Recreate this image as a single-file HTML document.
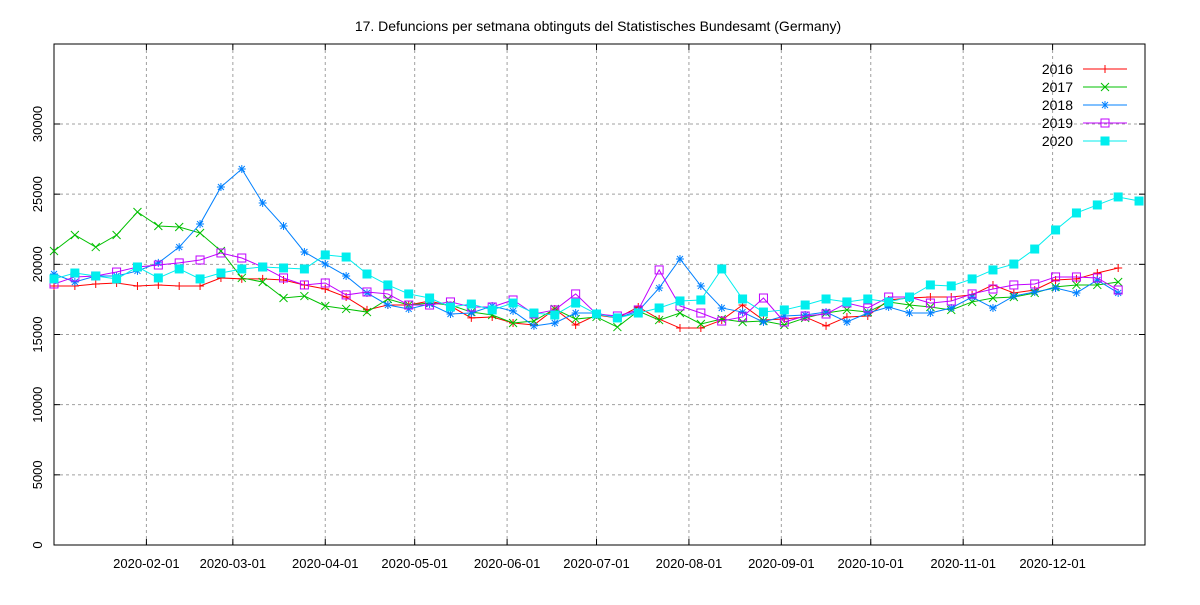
<!DOCTYPE html>
<html><head><meta charset="utf-8"><style>
body{margin:0;background:#fff;}
svg text{font-family:"Liberation Sans",sans-serif;fill:#000;}
</style></head><body>
<svg id="chart" width="1200" height="600" xmlns="http://www.w3.org/2000/svg">
<text x="598" y="31" font-size="14" text-anchor="middle">17. Defuncions per setmana obtinguts del Statistisches Bundesamt (Germany)</text>
<g id="grid"></g><g id="axes"></g><g id="series"></g><g id="legend"></g>
</svg>
<script>
const seriesNames=["2016","2017","2018","2019","2020"];
const v2016=[18460,18460,18600,18670,18460,18530,18460,18460,19030,18960,18960,18880,18530,18240,17670,16750,17100,17100,17390,17030,16180,16250,15820,15680,16820,15680,16390,16180,16960,16100,15460,15460,16030,17100,16030,16100,16250,15610,16250,16320,17460,17600,17670,17670,17820,18530,17960,18170,18880,18960,19380,19740];
const v2017=[20950,22090,21230,22090,23730,22730,22660,22230,20950,19030,18740,17600,17740,17030,16820,16600,17530,17100,17240,17100,16600,16390,15820,15960,16820,16100,16250,15530,16670,16030,16530,15750,16100,15890,15960,15680,16180,16530,16750,16600,17320,17100,16960,16750,17320,17600,17670,17960,18390,18530,18530,18740];
const v2018=[19310,18740,19170,19170,19530,20100,21230,22870,25510,26790,24370,22730,20880,20020,19170,17960,17100,16820,17170,16460,16530,17030,16670,15610,15820,16530,16530,16180,16670,18310,20380,18460,16890,16600,15890,16320,16390,16600,15890,16530,16960,16530,16530,16890,17670,16890,17740,18030,18310,17960,18880,17960];
const v2019=[18600,19100,19170,19450,19810,19950,20100,20310,20810,20450,19810,19030,18530,18670,17820,18030,17890,17100,17100,17320,16960,16960,17460,16460,16750,17890,16460,16320,16750,19600,17030,16530,15960,16250,17600,15890,16320,16460,17240,16890,17670,17670,17240,17390,17890,18240,18530,18600,19100,19100,19030,18170];
const v2020=[18960,19380,19170,18960,19810,19030,19670,18960,19380,19670,19810,19740,19670,20670,20520,19310,18530,17890,17600,16960,17170,16750,17240,16530,16390,17240,16460,16180,16530,16890,17390,17460,19670,17530,16600,16750,17100,17530,17320,17530,17320,17670,18530,18460,18960,19600,20020,21090,22450,23660,24230,24800,24510];
const yTicks=[0,5000,10000,15000,20000,25000,30000];
const xTickLabels=["2020-02-01","2020-03-01","2020-04-01","2020-05-01","2020-06-01","2020-07-01","2020-08-01","2020-09-01","2020-10-01","2020-11-01","2020-12-01"];
const xTickDays=[31,60,91,121,152,182,213,244,274,305,335];

const L=54,R=1145,T=44,B=545;
const dayMax=366,yMax=35700;
const xs=d=>L+d/dayMax*(R-L);
const ys=v=>B-v/yMax*(B-T);
const NS="http://www.w3.org/2000/svg";
function mk(tag,attrs,parent){const e=document.createElementNS(NS,tag);for(const k in attrs)e.setAttribute(k,attrs[k]);parent.appendChild(e);return e;}
const grid=document.getElementById('grid'),axes=document.getElementById('axes'),ser=document.getElementById('series'),leg=document.getElementById('legend');
yTicks.forEach(t=>{
  const y=ys(t);
  if(t>0){const g=mk('line',{x1:L,x2:R,y1:y,y2:y,stroke:'#a0a0a0','stroke-dasharray':'3,3','stroke-width':1},grid);
  
  }
  const tx=mk('text',{x:0,y:0,'font-size':13,'text-anchor':'middle',transform:`translate(${L-12},${y}) rotate(-90)`},axes);
  tx.textContent=t;
  
  
  mk('line',{x1:L,x2:L+6,y1:y,y2:y,stroke:'#000'},axes);
  mk('line',{x1:R,x2:R-6,y1:y,y2:y,stroke:'#000'},axes);
});
xTickDays.forEach((d,i)=>{
  const x=xs(d);
  const g=mk('line',{x1:x,x2:x,y1:T,y2:B,stroke:'#a0a0a0','stroke-dasharray':'3,3','stroke-width':1},grid);
  
  
  mk('line',{x1:x,x2:x,y1:B,y2:B-6,stroke:'#000'},axes);
  mk('line',{x1:x,x2:x,y1:T,y2:T+6,stroke:'#000'},axes);
  const tx=mk('text',{x:x,y:B+23,'font-size':13,'text-anchor':'middle'},axes);
  tx.textContent=xTickLabels[i];
  
  
});
const frame=mk('rect',{x:L,y:T,width:R-L,height:B-T,fill:'none',stroke:'#000','stroke-width':1},axes);



const allData=[v2016,v2017,v2018,v2019,v2020];
const colors=['#ff0000','#00c000','#0080ff','#c000ff','#00eeee'];
function marker(k,x,y,p){
  const c=colors[k];let e;
  if(k===0){e=mk('path',{d:`M${x-4},${y}H${x+4}M${x},${y-4}V${y+4}`,stroke:c,'stroke-width':1},p);}
  else if(k===1){e=mk('path',{d:`M${x-4},${y-4}L${x+4},${y+4}M${x-4},${y+4}L${x+4},${y-4}`,stroke:c,'stroke-width':1},p);}
  else if(k===2){e=mk('path',{d:`M${x-4},${y}H${x+4}M${x},${y-4}V${y+4}M${x-3},${y-3}L${x+3},${y+3}M${x-3},${y+3}L${x+3},${y-3}`,stroke:c,'stroke-width':1},p);}
  else if(k===3){e=mk('rect',{x:x-4,y:y-4,width:8,height:8,fill:'none',stroke:c,'stroke-width':1},p);}
  else {e=mk('rect',{x:x-4.5,y:y-4.5,width:9,height:9,fill:c},p);}
  return e;
}
allData.forEach((arr,k)=>{
  const g=mk('g',{},ser);
  
  
  const pts=arr.map((v,i)=>[xs(i*7),ys(v)]);
  const pl=mk('polyline',{points:pts.map(p=>p.join(',')).join(' '),fill:'none',stroke:colors[k],'stroke-width':1},g);
  
  
  pts.forEach(p=>{const m=marker(k,p[0],p[1],g);
    
    });
  const ly=69+k*18;
  const lg=mk('g',{},leg);
  
  
  const t=mk('text',{x:1073,y:ly+5,'font-size':14,'text-anchor':'end'},lg);
  t.textContent=seriesNames[k];
  mk('line',{x1:1083,x2:1127,y1:ly,y2:ly,stroke:colors[k],'stroke-width':1},lg);
  marker(k,1105,ly,lg);
});
</script>
</body></html>
